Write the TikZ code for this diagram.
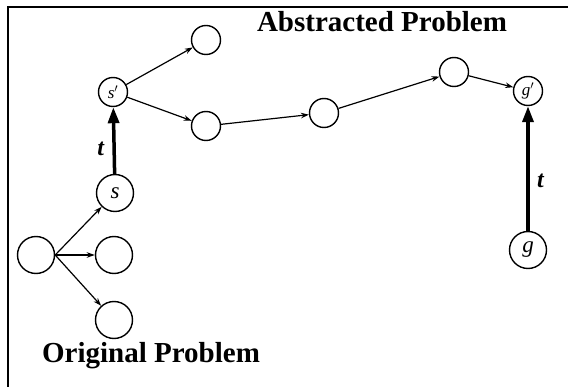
\documentclass[tikz,border=0pt]{standalone}
\usepackage{fontspec}
\setmainfont{Liberation Serif}
\usetikzlibrary{arrows.meta}
\tikzset{
  st/.style={circle,draw,line width=1.4pt,inner sep=0pt,minimum size=29pt},
  big/.style={circle,draw,line width=1.4pt,inner sep=0pt,minimum size=37pt},
  thin/.style={line width=1.2pt,-{Stealth[length=8pt,width=5.5pt]}},
  thick/.style={line width=3.5pt,-{Triangle[length=16pt,width=11pt]}},
  lab/.style={font=\fontsize{29}{30}\selectfont\bfseries,anchor=base},
  var/.style={font=\fontsize{23}{24}\selectfont\itshape},
  svar/.style={font=\fontsize{17}{18}\selectfont\itshape},
  tl/.style={font=\fontsize{24}{26}\selectfont\bfseries\itshape}
}
\begin{document}
\begin{tikzpicture}[x=1pt,y=-1pt]
\useasboundingbox (0,0) rectangle (568,387);
\draw[line width=1.4pt] (8,387) -- (8,7) -- (568,7);
% abstract level
\node[st] (top) at (206,40) {};
\node[st,svar] (sp) at (113,92) {s$'$};
\node[st] (mid) at (206,126) {};
\node[st] (n3) at (324,113) {};
\node[st] (n4) at (454,72) {};
\node[st,svar] (gp) at (528,91) {g$'$};
% original level
\node[big,var] (s) at (115,193) {s};
\node[big] (l) at (36,255) {};
\node[big] (m) at (114,255) {};
\node[big] (b) at (114,320) {};
\node[big,var] (g) at (528,250) {g};
% arrows
\draw[thin] (sp) -- (top);
\draw[thin] (sp) -- (mid);
\draw[thin] (mid) -- (n3);
\draw[thin] (n3) -- (n4);
\draw[thin] (n4) -- (gp);
\draw[thin] (l.east) -- (s);
\draw[thin] (l.east) -- (m);
\draw[thin] (l.east) -- (b);
\draw[thick] (s) -- node[tl,left=5pt,pos=0.38] {t} (sp);
\draw[thick] (g) -- node[tl,right=4pt,pos=0.4] {t} (gp);
% labels
\node[lab] (abs) at (382,32) {Abstracted Problem};
\node[lab] (orig) at (151,363) {Original Problem};
\end{tikzpicture}
\end{document}
